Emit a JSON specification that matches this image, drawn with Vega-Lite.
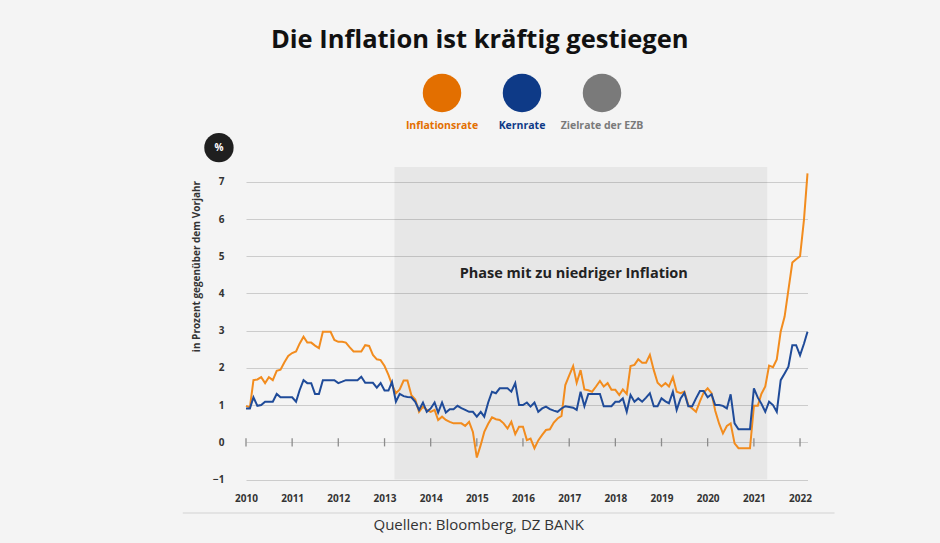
{
"$schema": "https://vega.github.io/schema/vega-lite/v6.json",
"autosize": {"type": "none"},
"width": 561.5,
"height": 312.5,
"padding": {"left": 246, "top": 167, "right": 132.5, "bottom": 63.5},
"background": "#f4f4f4",
"config": {"view": {"stroke": null}, "font": "Open Sans"},
"title": {"text": "Die Inflation ist kräftig gestiegen", "fontSize": 25.5, "fontWeight": "bold", "color": "#111111", "font": "Open Sans", "anchor": "middle", "frame": "group", "dx": -47, "offset": 20},
"datasets": {
"cpi": [
{"d":"2010-01-01","i":0.98,"c":0.91},{"d":"2010-02-01","i":0.94,"c":0.91},{"d":"2010-03-01","i":1.67,"c":1.21},{"d":"2010-04-01","i":1.69,"c":0.98},{"d":"2010-05-01","i":1.75,"c":1.0},{"d":"2010-06-01","i":1.59,"c":1.09},{"d":"2010-07-01","i":1.75,"c":1.09},{"d":"2010-08-01","i":1.67,"c":1.09},{"d":"2010-09-01","i":1.92,"c":1.3},{"d":"2010-10-01","i":1.95,"c":1.21},{"d":"2010-11-01","i":2.15,"c":1.21},{"d":"2010-12-01","i":2.32,"c":1.21},
{"d":"2011-01-01","i":2.4,"c":1.21},{"d":"2011-02-01","i":2.44,"c":1.09},{"d":"2011-03-01","i":2.65,"c":1.4},{"d":"2011-04-01","i":2.84,"c":1.67},{"d":"2011-05-01","i":2.68,"c":1.59},{"d":"2011-06-01","i":2.68,"c":1.59},{"d":"2011-07-01","i":2.6,"c":1.3},{"d":"2011-08-01","i":2.53,"c":1.3},{"d":"2011-09-01","i":2.97,"c":1.67},{"d":"2011-10-01","i":2.97,"c":1.67},{"d":"2011-11-01","i":2.97,"c":1.67},{"d":"2011-12-01","i":2.75,"c":1.67},
{"d":"2012-01-01","i":2.7,"c":1.59},{"d":"2012-02-01","i":2.7,"c":1.63},{"d":"2012-03-01","i":2.68,"c":1.67},{"d":"2012-04-01","i":2.55,"c":1.67},{"d":"2012-05-01","i":2.44,"c":1.67},{"d":"2012-06-01","i":2.44,"c":1.67},{"d":"2012-07-01","i":2.44,"c":1.76},{"d":"2012-08-01","i":2.61,"c":1.6},{"d":"2012-09-01","i":2.59,"c":1.6},{"d":"2012-10-01","i":2.35,"c":1.6},{"d":"2012-11-01","i":2.23,"c":1.47},{"d":"2012-12-01","i":2.21,"c":1.59},
{"d":"2013-01-01","i":2.05,"c":1.39},{"d":"2013-02-01","i":1.81,"c":1.39},{"d":"2013-03-01","i":1.55,"c":1.62},{"d":"2013-04-01","i":1.32,"c":1.09},{"d":"2013-05-01","i":1.42,"c":1.3},{"d":"2013-06-01","i":1.66,"c":1.24},{"d":"2013-07-01","i":1.66,"c":1.22},{"d":"2013-08-01","i":1.27,"c":1.21},{"d":"2013-09-01","i":1.15,"c":1.09},{"d":"2013-10-01","i":0.82,"c":0.87},{"d":"2013-11-01","i":0.96,"c":1.07},{"d":"2013-12-01","i":0.87,"c":0.82},
{"d":"2014-01-01","i":0.82,"c":0.91},{"d":"2014-02-01","i":0.87,"c":1.07},{"d":"2014-03-01","i":0.6,"c":0.8},{"d":"2014-04-01","i":0.69,"c":1.07},{"d":"2014-05-01","i":0.6,"c":0.8},{"d":"2014-06-01","i":0.55,"c":0.89},{"d":"2014-07-01","i":0.51,"c":0.89},{"d":"2014-08-01","i":0.51,"c":0.98},{"d":"2014-09-01","i":0.51,"c":0.92},{"d":"2014-10-01","i":0.44,"c":0.87},{"d":"2014-11-01","i":0.55,"c":0.82},{"d":"2014-12-01","i":0.28,"c":0.82},
{"d":"2015-01-01","i":-0.41,"c":0.69},{"d":"2015-02-01","i":-0.07,"c":0.82},{"d":"2015-03-01","i":0.28,"c":0.69},{"d":"2015-04-01","i":0.5,"c":1.07},{"d":"2015-05-01","i":0.67,"c":1.36},{"d":"2015-06-01","i":0.62,"c":1.32},{"d":"2015-07-01","i":0.6,"c":1.45},{"d":"2015-08-01","i":0.51,"c":1.45},{"d":"2015-09-01","i":0.37,"c":1.45},{"d":"2015-10-01","i":0.55,"c":1.36},{"d":"2015-11-01","i":0.22,"c":1.59},{"d":"2015-12-01","i":0.42,"c":1.0},
{"d":"2016-01-01","i":0.42,"c":1.0},{"d":"2016-02-01","i":0.06,"c":1.07},{"d":"2016-03-01","i":0.1,"c":0.96},{"d":"2016-04-01","i":-0.16,"c":1.07},{"d":"2016-05-01","i":0.05,"c":0.82},{"d":"2016-06-01","i":0.2,"c":0.91},{"d":"2016-07-01","i":0.33,"c":0.96},{"d":"2016-08-01","i":0.35,"c":0.89},{"d":"2016-09-01","i":0.53,"c":0.85},{"d":"2016-10-01","i":0.64,"c":0.82},{"d":"2016-11-01","i":0.71,"c":0.91},{"d":"2016-12-01","i":1.54,"c":0.97},
{"d":"2017-01-01","i":1.8,"c":0.95},{"d":"2017-02-01","i":2.05,"c":0.93},{"d":"2017-03-01","i":1.6,"c":0.87},{"d":"2017-04-01","i":1.94,"c":1.36},{"d":"2017-05-01","i":1.42,"c":0.97},{"d":"2017-06-01","i":1.4,"c":1.3},{"d":"2017-07-01","i":1.36,"c":1.3},{"d":"2017-08-01","i":1.5,"c":1.3},{"d":"2017-09-01","i":1.65,"c":1.3},{"d":"2017-10-01","i":1.5,"c":0.97},{"d":"2017-11-01","i":1.59,"c":0.97},{"d":"2017-12-01","i":1.41,"c":0.97},
{"d":"2018-01-01","i":1.41,"c":1.09},{"d":"2018-02-01","i":1.27,"c":1.09},{"d":"2018-03-01","i":1.42,"c":1.18},{"d":"2018-04-01","i":1.3,"c":0.82},{"d":"2018-05-01","i":2.05,"c":1.27},{"d":"2018-06-01","i":2.08,"c":1.09},{"d":"2018-07-01","i":2.23,"c":1.18},{"d":"2018-08-01","i":2.14,"c":1.09},{"d":"2018-09-01","i":2.14,"c":1.2},{"d":"2018-10-01","i":2.35,"c":1.32},{"d":"2018-11-01","i":1.94,"c":0.97},{"d":"2018-12-01","i":1.6,"c":0.97},
{"d":"2019-01-01","i":1.5,"c":1.18},{"d":"2019-02-01","i":1.59,"c":1.1},{"d":"2019-03-01","i":1.5,"c":1.05},{"d":"2019-04-01","i":1.75,"c":1.36},{"d":"2019-05-01","i":1.36,"c":0.87},{"d":"2019-06-01","i":1.32,"c":1.18},{"d":"2019-07-01","i":1.36,"c":1.33},{"d":"2019-08-01","i":1.0,"c":0.97},{"d":"2019-09-01","i":0.91,"c":0.97},{"d":"2019-10-01","i":0.82,"c":1.18},{"d":"2019-11-01","i":1.1,"c":1.38},{"d":"2019-12-01","i":1.34,"c":1.38},
{"d":"2020-01-01","i":1.45,"c":1.21},{"d":"2020-02-01","i":1.32,"c":1.29},{"d":"2020-03-01","i":0.85,"c":1.0},{"d":"2020-04-01","i":0.5,"c":1.0},{"d":"2020-05-01","i":0.24,"c":0.98},{"d":"2020-06-01","i":0.44,"c":0.91},{"d":"2020-07-01","i":0.51,"c":1.29},{"d":"2020-08-01","i":-0.03,"c":0.51},{"d":"2020-09-01","i":-0.16,"c":0.35},{"d":"2020-10-01","i":-0.16,"c":0.35},{"d":"2020-11-01","i":-0.16,"c":0.35},{"d":"2020-12-01","i":-0.16,"c":0.35},
{"d":"2021-01-01","i":0.98,"c":1.45},{"d":"2021-02-01","i":0.98,"c":1.2},{"d":"2021-03-01","i":1.3,"c":1.04},{"d":"2021-04-01","i":1.5,"c":0.82},{"d":"2021-05-01","i":2.06,"c":1.09},{"d":"2021-06-01","i":2.02,"c":1.0},{"d":"2021-07-01","i":2.23,"c":0.82},{"d":"2021-08-01","i":2.98,"c":1.67},{"d":"2021-09-01","i":3.38,"c":1.85},{"d":"2021-10-01","i":4.1,"c":2.03},{"d":"2021-11-01","i":4.83,"c":2.61},{"d":"2021-12-01","i":4.92,"c":2.61},
{"d":"2022-01-01","i":5.0,"c":2.34},{"d":"2022-02-01","i":5.98,"c":2.65},{"d":"2022-03-01","i":7.23,"c":2.97}
],
"years": [{"t":"2010-01-01"},{"t":"2011-01-01"},{"t":"2012-01-01"},{"t":"2013-01-01"},{"t":"2014-01-01"},{"t":"2015-01-01"},{"t":"2016-01-01"},{"t":"2017-01-01"},{"t":"2018-01-01"},{"t":"2019-01-01"},{"t":"2020-01-01"},{"t":"2021-01-01"},{"t":"2022-01-01"}],
"legend": [{"s":"Inflationsrate"},{"s":"Kernrate"},{"s":"Zielrate der EZB"}],
"phase": [{"phase":"Phase mit zu niedriger Inflation","start":"2013-03-20","end":"2021-04-17","unit":"%"}]
},
"layer": [
{"layer": [
{"data": {"name": "phase"},
 "mark": {"type": "rect", "fill": "#000000", "fillOpacity": 0.05, "strokeWidth": 0},
 "encoding": {
  "x": {"field": "start", "type": "temporal", "scale": {"domain": [{"year": 2010, "month": 1, "date": 1}, {"year": 2022, "month": 3, "date": 1}]},
   "axis": {"tickCount": {"interval": "year", "step": 1}, "format": "%Y", "grid": false, "domain": false, "ticks": false, "labelFlush": false, "labelOverlap": false, "labelPadding": 14, "labelFontWeight": "bold", "labelFontSize": 10, "labelColor": "#333333", "labelFont": "Open Sans",
    "title": "Quellen: Bloomberg, DZ BANK", "titleFont": "Open Sans", "titleFontWeight": "normal", "titleFontSize": 15, "titleColor": "#333333", "titleAnchor": "start", "titleX": 127, "titleY": 49.5, "titleAlign": "left", "titleBaseline": "alphabetic"}},
  "x2": {"field": "end"},
  "y": {"datum": -1, "type": "quantitative", "scale": {"domain": [-1, 7.4], "nice": false, "zero": false},
   "axis": {"values": [-1, 0, 1, 2, 3, 4, 5, 6, 7], "tickCount": 9, "labelOverlap": false, "grid": true, "gridColor": "#cccccc", "gridWidth": 1, "domain": false, "ticks": false, "labelPadding": 22, "labelFontWeight": "bold", "labelFontSize": 10, "labelColor": "#333333", "labelFont": "Open Sans",
    "title": "in Prozent gegenüber dem Vorjahr", "titleFont": "Open Sans", "titleFontSize": 10, "titleFontWeight": "bold", "titleColor": "#333333", "titleAngle": -90, "titleX": -50, "titleY": 99, "titleAlign": "center", "titleBaseline": "middle"}},
  "y2": {"datum": 7.4}
 }},
{"data": {"name": "phase"},
 "mark": {"type": "text", "fontWeight": "bold", "fontSize": 14.5, "font": "Open Sans", "color": "#222222", "clip": false},
 "encoding": {"x": {"datum": {"year": 2017, "month": 2, "date": 6}, "type": "temporal"}, "y": {"datum": 4.52}, "text": {"field": "phase"}}},
{"mark": {"type": "rule", "color": "#7b7b7b", "strokeWidth": 3.5},
 "encoding": {"y": {"datum": 2}}},
{"data": {"name": "cpi"},
 "transform": [{"fold": ["i", "c"], "as": ["k", "v"]}],
 "mark": {"type": "line", "strokeWidth": 2, "clip": false},
 "encoding": {
  "x": {"field": "d", "type": "temporal"},
  "y": {"field": "v", "type": "quantitative", "axis": {"values": [-1, 0, 1, 2, 3, 4, 5, 6, 7], "tickCount": 9, "labelOverlap": false, "grid": true, "gridColor": "#cccccc", "gridWidth": 1, "domain": false, "ticks": false, "labelPadding": 22, "labelFontWeight": "bold", "labelFontSize": 10, "labelColor": "#333333", "labelFont": "Open Sans",
    "title": "in Prozent gegenüber dem Vorjahr", "titleFont": "Open Sans", "titleFontSize": 10, "titleFontWeight": "bold", "titleColor": "#333333", "titleAngle": -90, "titleX": -50, "titleY": 99, "titleAlign": "center", "titleBaseline": "middle"}},
  "color": {"field": "k", "type": "nominal", "scale": {"domain": ["i", "c"], "range": ["#f28c1e", "#1f4b99"]}, "legend": null}
 }},
{"data": {"name": "years"},
 "mark": {"type": "rule", "color": "#8c8c8c", "strokeWidth": 1.3, "clip": false},
 "encoding": {"x": {"field": "t", "type": "temporal"}, "y": {"datum": -0.11}, "y2": {"datum": 0.11}}},
{"data": {"name": "phase"},
 "mark": {"type": "point", "filled": true, "opacity": 1, "size": 860, "color": "#1f1f1f", "clip": false},
 "encoding": {"x": {"datum": {"year": 2009, "month": 6, "date": 1}, "type": "temporal"}, "y": {"datum": 7.92}}},
{"data": {"name": "phase"},
 "mark": {"type": "text", "color": "#ffffff", "fontWeight": "bold", "fontSize": 10, "font": "Open Sans", "clip": false},
 "encoding": {"x": {"datum": {"year": 2009, "month": 6, "date": 1}, "type": "temporal"}, "y": {"datum": 7.92}, "text": {"field": "unit"}}},
{"data": {"name": "phase"},
 "mark": {"type": "rule", "color": "#e3e3e3", "strokeWidth": 2, "clip": false},
 "encoding": {"x": {"datum": {"year": 2008, "month": 8, "date": 19}, "type": "temporal"}, "x2": {"datum": {"year": 2022, "month": 10, "date": 1}}, "y": {"datum": -1.9}}}
]},
{"data": {"name": "legend"},
 "layer": [
 {"mark": {"type": "point", "filled": true, "opacity": 1, "size": 1480, "shape": "circle", "clip": false},
  "encoding": {
   "x": {"field": "s", "type": "nominal", "scale": {"type": "point", "domain": ["Inflationsrate", "Kernrate", "Zielrate der EZB"], "range": [196, 356], "padding": 0}, "axis": null},
   "y": {"datum": 9.39, "type": "quantitative", "scale": {"domain": [-1, 7.4], "nice": false, "zero": false}, "axis": null},
   "color": {"field": "s", "type": "nominal", "scale": {"domain": ["Inflationsrate", "Kernrate", "Zielrate der EZB"], "range": ["#e36f00", "#0e3a87", "#7a7a7a"]}, "legend": null}
  }},
 {"mark": {"type": "text", "fontWeight": "bold", "fontSize": 10.5, "font": "Open Sans", "clip": false},
  "encoding": {
   "x": {"field": "s", "type": "nominal"},
   "y": {"datum": 8.5, "type": "quantitative"},
   "text": {"field": "s"},
   "color": {"field": "s", "type": "nominal", "legend": null}
  }}
 ]}
],
"resolve": {"scale": {"x": "independent", "y": "independent", "color": "independent"}}
}
